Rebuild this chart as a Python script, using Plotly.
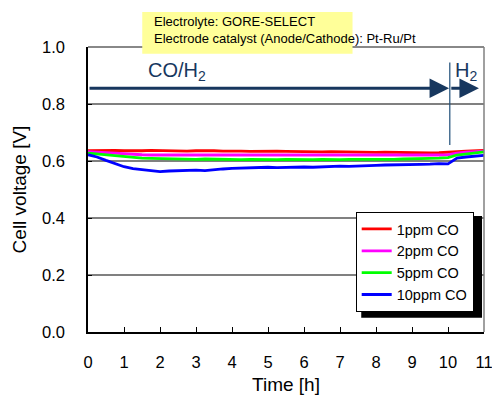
import plotly.graph_objects as go

time_h = [0, 0.25, 0.5, 0.75, 1, 1.25, 1.5, 1.75, 2, 2.25, 2.5, 2.75, 3, 3.25, 3.5, 3.75,
          4, 4.25, 4.5, 4.75, 5, 5.25, 5.5, 5.75, 6, 6.25, 6.5, 6.75, 7, 7.25, 7.5, 7.75,
          8, 8.25, 8.5, 8.75, 9, 9.25, 9.5, 9.75, 10, 10.25, 10.5, 10.75, 11]

v_1ppm = [0.636, 0.637, 0.636, 0.637, 0.636, 0.635, 0.636, 0.637, 0.636, 0.635, 0.636, 0.635,
          0.636, 0.637, 0.636, 0.635, 0.636, 0.635, 0.634, 0.635, 0.634, 0.635, 0.634, 0.633,
          0.634, 0.633, 0.632, 0.633, 0.632, 0.631, 0.632, 0.631, 0.630, 0.631, 0.630, 0.629,
          0.630, 0.629, 0.628, 0.629, 0.630, 0.633, 0.635, 0.636, 0.637]
v_2ppm = [0.633, 0.631, 0.628, 0.626, 0.624, 0.623, 0.622, 0.621, 0.621, 0.620, 0.621, 0.620,
          0.619, 0.620, 0.619, 0.620, 0.619, 0.620, 0.619, 0.619, 0.620, 0.619, 0.620, 0.619,
          0.620, 0.619, 0.620, 0.619, 0.619, 0.620, 0.619, 0.620, 0.619, 0.620, 0.620, 0.619,
          0.620, 0.621, 0.620, 0.621, 0.622, 0.628, 0.631, 0.633, 0.635]
v_5ppm = [0.628, 0.625, 0.620, 0.617, 0.614, 0.612, 0.610, 0.609, 0.608, 0.607, 0.607, 0.606,
          0.606, 0.607, 0.606, 0.605, 0.606, 0.605, 0.606, 0.605, 0.606, 0.605, 0.606, 0.605,
          0.606, 0.605, 0.606, 0.605, 0.605, 0.606, 0.605, 0.606, 0.606, 0.605, 0.606, 0.607,
          0.607, 0.608, 0.609, 0.610, 0.612, 0.621, 0.625, 0.628, 0.632]
v_10ppm = [0.622, 0.614, 0.602, 0.590, 0.580, 0.573, 0.569, 0.566, 0.563, 0.565, 0.566, 0.567,
           0.568, 0.566, 0.570, 0.572, 0.574, 0.575, 0.577, 0.576, 0.578, 0.577, 0.578, 0.579,
           0.579, 0.578, 0.580, 0.581, 0.582, 0.581, 0.583, 0.584, 0.585, 0.586, 0.586, 0.587,
           0.587, 0.588, 0.589, 0.591, 0.590, 0.610, 0.614, 0.617, 0.620]

series_names = ["1ppm CO", "2ppm CO", "5ppm CO", "10ppm CO"]
series_values = [v_1ppm, v_2ppm, v_5ppm, v_10ppm]
series_colors = ["#FF0000", "#FF00FF", "#00FF00", "#0000FF"]

x_ticks = list(range(0, 12))
y_ticks = [0.0, 0.2, 0.4, 0.6, 0.8, 1.0]

FONT = "Liberation Sans, Arial, sans-serif"
NAVY = "#17375E"

fig = go.Figure()
for name, vals, col in zip(series_names, series_values, series_colors):
    fig.add_trace(go.Scatter(x=time_h, y=vals, mode="lines", name=name,
                             line=dict(color=col, width=2.8)))

fig.update_layout(
    width=492, height=401,
    margin=dict(l=88, r=8, t=47, b=69),
    paper_bgcolor="white", plot_bgcolor="white",
    font=dict(family=FONT, color="black"),
    showlegend=True,
    legend=dict(x=0.676, y=0.421, xanchor="left", yanchor="top",
                bgcolor="white", bordercolor="black", borderwidth=1,
                font=dict(size=14.5, family=FONT), tracegroupgap=0,
                itemwidth=30),
    xaxis=dict(range=[0, 11], tickvals=x_ticks, ticks="inside", ticklen=5,
               tickcolor="black", showgrid=False, zeroline=False,
               showline=True, linecolor="black", linewidth=1.5,
               tickfont=dict(size=16.5), ticklabelstandoff=14,
               ticklabeloverflow="allow", automargin=False,
               title=dict(text="Time [h]", font=dict(size=19), standoff=8)),
    yaxis=dict(range=[0, 1.0], tickvals=y_ticks, tickformat=".1f",
               ticks="inside", ticklen=4, tickcolor="black",
               showgrid=True, gridcolor="#808080", gridwidth=1.5, zeroline=False,
               showline=True, linecolor="black", linewidth=1.5,
               tickfont=dict(size=16.5), ticklabelstandoff=18, automargin=False,
               title=dict(text="Cell voltage [V]", font=dict(size=19), standoff=10)),
)

shapes = [
    dict(type="line", xref="paper", yref="paper", x0=0, x1=1, y0=1, y1=1,
         line=dict(color="#606060", width=1.5)),
    dict(type="line", xref="paper", yref="paper", x0=1, x1=1, y0=0, y1=1,
         line=dict(color="#808080", width=1.5)),
    dict(type="line", xref="x", yref="y", x0=10.05, x1=10.05, y0=0.656, y1=0.946,
         line=dict(color="#1F4E79", width=1.2)),
    # legend drop shadow
    dict(type="rect", xref="paper", yref="paper", x0=0.690, x1=0.995, y0=0.050, y1=0.407,
         fillcolor="black", line=dict(width=0), layer="above"),
    dict(type="rect", xref="paper", yref="paper", x0=0.137, x1=0.668, y0=0.976, y1=1.123,
         fillcolor="#FFFF99", line=dict(width=0), layer="above"),
]
fig.update_layout(shapes=shapes)

ann = [
    dict(x=10.03, y=0.855, ax=0, ay=0.855, xref="x", yref="y", axref="x", ayref="y",
         showarrow=True, arrowhead=2, arrowsize=1.3, arrowwidth=3, arrowcolor=NAVY, text=""),
    dict(x=10.86, y=0.855, ax=10.05, ay=0.855, xref="x", yref="y", axref="x", ayref="y",
         showarrow=True, arrowhead=2, arrowsize=1.3, arrowwidth=3, arrowcolor=NAVY, text=""),
    dict(x=1.6, y=0.915, xref="x", yref="y", xanchor="left", yanchor="middle",
         text="CO/H<sub>2</sub>", showarrow=False, font=dict(size=20, color=NAVY)),
    dict(x=10.15, y=0.915, xref="x", yref="y", xanchor="left", yanchor="middle",
         text="H<sub>2</sub>", showarrow=False, font=dict(size=20, color=NAVY)),
    dict(x=0.162, y=1.091, xref="paper", yref="paper", xanchor="left", yanchor="middle",
         text="Electrolyte: GORE-SELECT", showarrow=False, font=dict(size=13)),
    dict(x=0.162, y=1.030, xref="paper", yref="paper", xanchor="left", yanchor="middle",
         text="Electrode catalyst (Anode/Cathode): Pt-Ru/Pt", showarrow=False, font=dict(size=13)),
]
fig.update_layout(annotations=ann)

fig.write_html("out.html", config={"displayModeBar": False},
               post_script="document.body.style.margin='0';")
